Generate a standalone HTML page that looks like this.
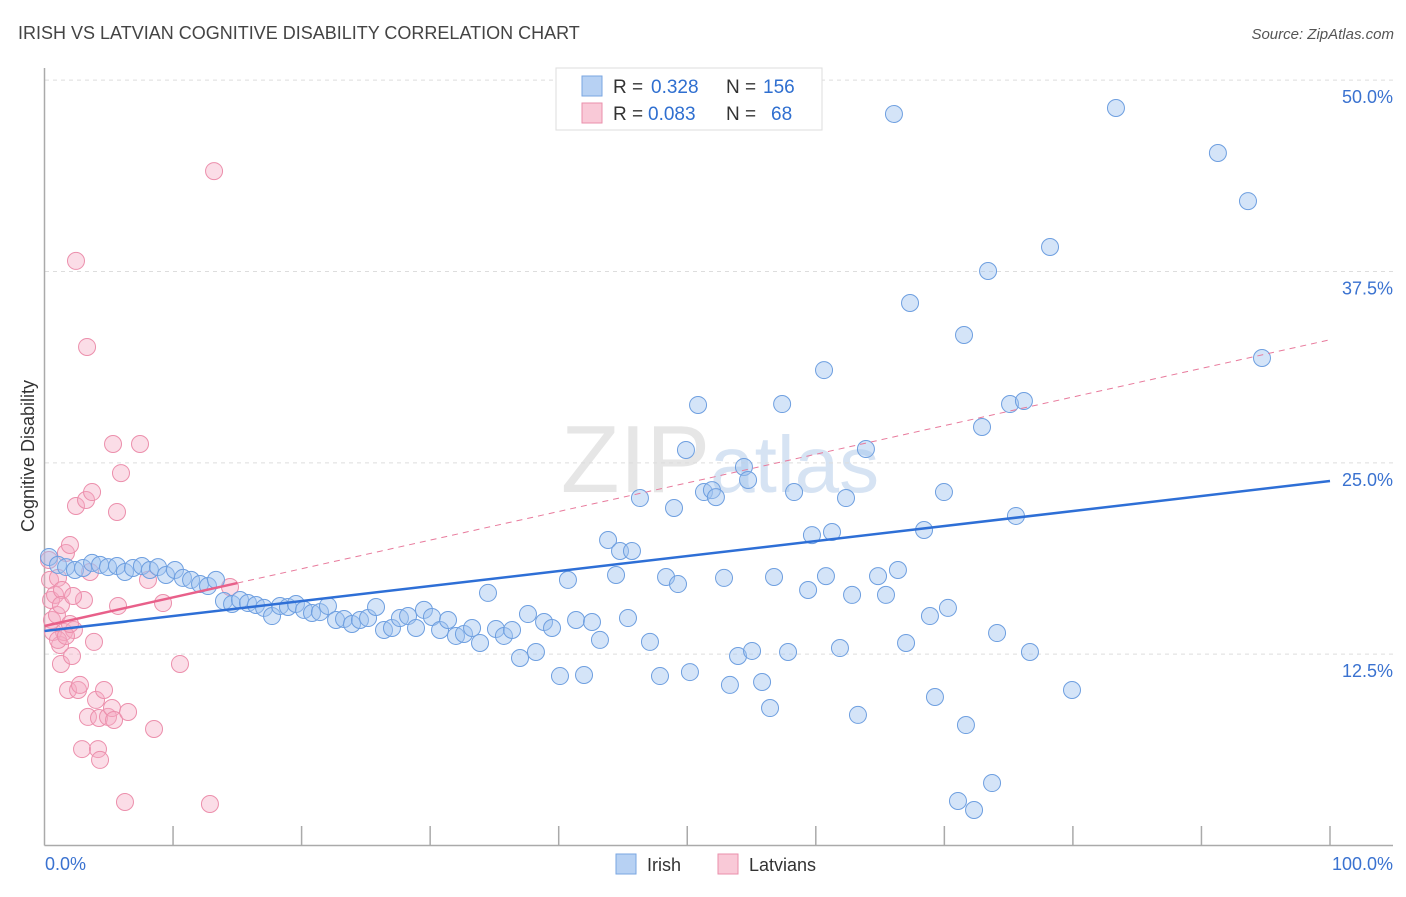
<!DOCTYPE html>
<html><head><meta charset="utf-8"><style>
body{margin:0;background:#fff;font-family:"Liberation Sans",sans-serif;}
svg text{font-family:"Liberation Sans",sans-serif;}
</style></head><body>
<svg id="chart" width="1406" height="892" viewBox="0 0 1406 892">
<text x="18" y="39" font-size="18" fill="#444">IRISH VS LATVIAN COGNITIVE DISABILITY CORRELATION CHART</text>
<text x="1394" y="39" font-size="15" fill="#555" font-style="italic" text-anchor="end">Source: ZipAtlas.com</text>
<text x="720" y="492" font-size="96" fill="#e6e6e6" text-anchor="middle" font-family="Liberation Serif">ZIP<tspan fill="#d6e3f3" font-family="Liberation Sans" font-size="80">atlas</tspan></text>
<g id="grid"></g>
<g id="axes"></g>
<g id="pts"></g>
<g id="trend"></g>
<text x="34" y="456" font-size="18" fill="#333" text-anchor="middle" transform="rotate(-90 34 456)">Cognitive Disability</text>
<g>
<rect x="556" y="68" width="266" height="62" fill="#fff" stroke="#ddd"/>
<rect x="582" y="76" width="20" height="20" fill="#b7d1f3" stroke="#7aa6e2"/>
<rect x="582" y="103" width="20" height="20" fill="#f9c9d7" stroke="#ea8fab"/>
<text x="613" y="93" font-size="19" fill="#333">R =</text>
<text x="651" y="93" font-size="19" fill="#2f6fd0">0.328</text>
<text x="726" y="93" font-size="19" fill="#333">N =</text>
<text x="763" y="93" font-size="19" fill="#2f6fd0">156</text>
<text x="613" y="120" font-size="19" fill="#333">R =</text>
<text x="648" y="120" font-size="19" fill="#2f6fd0">0.083</text>
<text x="726" y="120" font-size="19" fill="#333">N =</text>
<text x="771" y="120" font-size="19" fill="#2f6fd0">68</text>
</g>
<g><rect x="616" y="854" width="20" height="20" fill="#b7d1f3" stroke="#7aa6e2"/><text x="647" y="871" font-size="18" fill="#333">Irish</text></g>
<g><rect x="718" y="854" width="20" height="20" fill="#f9c9d7" stroke="#ea8fab"/><text x="749" y="871" font-size="18" fill="#333">Latvians</text></g>
</svg>
<script>
const yTicks=[12.5,25,37.5,50];
const yTickLabels=["12.5%","25.0%","37.5%","50.0%"];
const xTicks=[0,10,20,30,40,50,60,70,80,90,100];
const irishX=[0.35,1.05,1.68,2.37,3.0,3.7,4.32,4.94,5.64,6.26,6.88,7.58,8.2,8.83,9.45,10.15,10.77,11.4,12.1,12.72,13.34,13.96,14.59,15.21,15.83,16.45,17.08,17.7,18.32,18.94,19.56,20.19,20.81,21.43,22.05,22.68,23.3,23.92,24.54,25.17,25.79,26.41,27.03,27.65,28.28,28.9,29.52,30.14,30.77,31.39,32.01,32.63,33.26,33.88,34.5,35.12,35.74,36.37,36.99,37.61,38.23,38.86,39.48,40.1,40.72,41.35,41.97,42.59,43.21,43.84,44.46,44.77,45.7,45.39,46.32,47.1,47.88,48.35,48.97,49.28,49.9,50.21,50.84,51.3,51.92,52.23,52.86,53.32,53.95,54.41,54.73,55.04,55.82,56.44,56.75,57.38,57.84,58.31,59.4,59.7,60.64,60.79,61.26,61.88,62.35,62.82,63.28,63.9,64.84,65.46,66.08,66.39,67.02,67.33,68.42,68.88,69.27,69.97,70.28,71.53,71.68,71.06,72.31,72.93,73.4,73.71,74.1,75.11,75.57,76.19,76.66,78.22,79.93,83.35,91.28,93.62,94.71];
const irishY=[18.85,18.33,18.19,18.0,18.13,18.46,18.33,18.19,18.26,17.87,18.13,18.26,18.0,18.19,17.67,18.0,17.48,17.35,17.08,16.95,17.35,15.97,15.78,16.04,15.84,15.71,15.52,14.99,15.65,15.58,15.78,15.39,15.19,15.25,15.65,14.73,14.8,14.47,14.73,14.86,15.58,14.08,14.21,14.86,14.99,14.21,15.39,14.93,14.08,14.73,13.69,13.82,14.21,13.23,16.5,14.14,13.69,14.08,12.25,15.12,12.64,14.6,14.21,11.07,17.35,14.73,11.14,14.6,13.43,19.96,17.67,19.24,19.24,14.86,22.7,13.3,11.07,17.54,22.05,17.08,25.84,11.33,28.78,23.09,23.22,22.76,17.48,10.49,12.38,24.73,23.88,12.71,10.68,8.98,17.54,28.84,12.64,23.09,16.69,20.28,31.06,17.6,20.48,12.9,22.7,16.37,8.53,25.9,17.6,16.37,47.79,18.0,13.23,35.44,20.61,14.99,9.7,23.09,15.52,33.35,7.87,2.91,2.32,27.34,37.53,4.08,13.88,28.84,21.53,29.04,12.64,39.1,10.16,48.18,45.24,42.1,31.85];
const latX=[0.35,0.43,0.51,0.58,0.66,0.82,0.97,1.05,1.21,1.28,1.36,1.52,1.67,1.83,1.98,2.14,2.29,2.45,2.45,2.61,2.76,2.92,3.07,3.23,3.31,3.38,3.54,3.7,3.85,4.01,4.16,4.32,4.24,4.63,4.94,5.25,5.33,5.41,5.64,5.72,5.95,6.26,6.5,7.43,8.05,8.52,9.22,10.54,12.87,13.19,14.43,1.05,1.28,1.67,1.98,2.22];
const latY=[18.65,17.35,16.04,14.73,13.95,16.37,15.06,17.48,13.1,11.86,16.69,13.95,19.11,10.16,19.63,12.38,14.08,38.19,22.18,10.16,10.49,6.3,16.04,22.57,32.57,8.4,17.87,23.09,13.3,9.51,6.3,5.59,8.33,10.16,8.4,8.98,26.23,8.2,21.79,15.65,24.33,2.84,8.72,26.23,17.35,7.61,15.84,11.86,2.71,44.06,16.89,13.43,15.71,13.69,14.47,16.3];
const irishTrend=[14.01,23.81];
const latTrend=[14.34,33.04];
const latSolidEnd=15;
const NS="http://www.w3.org/2000/svg";
function X(v){return 44.5+v*12.855;}
function Y(v){return 845.5-v*15.307;}
function mk(t,a,p){const e=document.createElementNS(NS,t);for(const k in a)e.setAttribute(k,a[k]);p.appendChild(e);return e;}
const grid=document.getElementById('grid'),axes=document.getElementById('axes'),pts=document.getElementById('pts'),trend=document.getElementById('trend');
yTicks.forEach((v,i)=>{
 const l=mk('line',{x1:45,x2:1393,y1:Y(v),y2:Y(v),stroke:'#ddd','stroke-dasharray':'4,4'},grid);
 
 
 const t=mk('text',{x:1393,y:Y(v)+23,'font-size':18,fill:'#3a72d0','text-anchor':'end'},grid);
 t.textContent=yTickLabels[i];
 
 
});
let a=mk('line',{x1:44.5,x2:44.5,y1:68,y2:845.5,stroke:'#aaa','stroke-width':1.5},axes);


a=mk('line',{x1:44.5,x2:1393,y1:845.5,y2:845.5,stroke:'#aaa','stroke-width':1.5},axes);


xTicks.slice(1).forEach(v=>{
 const t=mk('line',{x1:X(v),x2:X(v),y1:826,y2:845.5,stroke:'#aaa','stroke-width':1.5},axes);
 
 
});
let tl=mk('text',{x:45,y:870,'font-size':18,fill:'#3a72d0'},axes);tl.textContent='0.0%';


tl=mk('text',{x:1393,y:870,'font-size':18,fill:'#3a72d0','text-anchor':'end'},axes);tl.textContent='100.0%';


latX.forEach((x,i)=>{
 const c=mk('circle',{cx:X(x),cy:Y(latY[i]),r:8.5,fill:'rgba(246,170,194,0.4)',stroke:'#ec8fac','stroke-width':1},pts);
 
 
});
irishX.forEach((x,i)=>{
 const c=mk('circle',{cx:X(x),cy:Y(irishY[i]),r:8.5,fill:'rgba(160,196,240,0.45)',stroke:'#6e9fe0','stroke-width':1},pts);
 
 
});
let ln=mk('line',{x1:X(0),y1:Y(irishTrend[0]),x2:X(100),y2:Y(irishTrend[1]),stroke:'#2e6fd6','stroke-width':2.5},trend);


const ls=(latTrend[1]-latTrend[0])/100;
ln=mk('line',{x1:X(latSolidEnd),y1:Y(latTrend[0]+ls*latSolidEnd),x2:X(100),y2:Y(latTrend[1]),stroke:'#e87a9c','stroke-width':1,'stroke-dasharray':'6,5'},trend);


ln=mk('line',{x1:X(0),y1:Y(latTrend[0]),x2:X(latSolidEnd),y2:Y(latTrend[0]+ls*latSolidEnd),stroke:'#e8608a','stroke-width':2.5},trend);


</script>
</body></html>
